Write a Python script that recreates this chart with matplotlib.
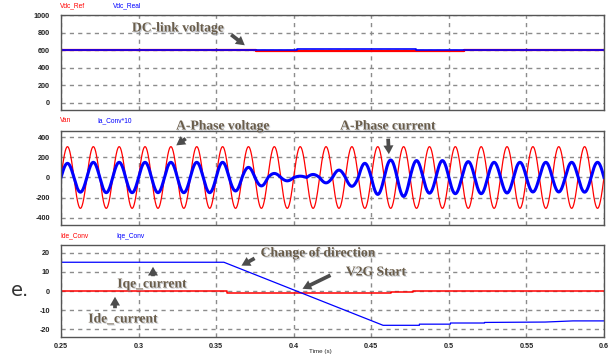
import numpy as np
import matplotlib
matplotlib.use("Agg")
import matplotlib.pyplot as plt
import matplotlib.patheffects as pe

plt.rcParams["axes.unicode_minus"] = False

# ---------------- data ----------------
# Panel 1: DC-link voltage
vdc_ref_t = [0.25, 0.376, 0.376, 0.51, 0.51, 0.60]
vdc_ref = [600, 600, 592, 592, 600, 600]
vdc_real_t = [0.25, 0.402, 0.402, 0.479, 0.479, 0.60]
vdc_real = [600, 600, 615, 615, 600, 600]

# Panel 2: phase voltage (60 Hz) and current*10, peak value of each half cycle
van_amplitude = 305.0
grid_freq = 60.0
ia_half_peaks = [140, -145, 150, -150, 150, -150, 150, -150, 150, -150,
                 150, -150, 150, -133, 100, -83, 40, -33, 13, 30,
                 -53, 73, -87, 140, -167, 173, -187, 167, -155, 167,
                 -160, 157, -160, 150, -153, 150, -143, 150, -143, 150,
                 -145, 150]

# Panel 3: d/q currents
iqe_t = [0.25, 0.355, 0.4576, 0.481, 0.481, 0.501, 0.501, 0.523, 0.523, 0.562, 0.58, 0.60]
iqe = [15, 15, -17.9, -17.9, -17.3, -17.3, -16.7, -16.7, -16.4, -16.2, -15.6, -15.6]
ide_t = [0.25, 0.357, 0.357, 0.463, 0.463, 0.477, 0.477, 0.60]
ide = [0, 0, -0.9, -0.9, -0.5, -0.5, 0, 0]

x_ticks = [0.25, 0.3, 0.35, 0.4, 0.45, 0.5, 0.55, 0.6]
x_tick_labels = ["0.25", "0.3", "0.35", "0.4", "0.45", "0.5", "0.55", "0.6"]
y1_ticks = [0, 200, 400, 600, 800, 1000]
y2_ticks = [-400, -200, 0, 200, 400]
y3_ticks = [-20, -10, 0, 10, 20]

# ---------------- figure ----------------
W, H = 608, 356
fig = plt.figure(figsize=(W / 100, H / 100), dpi=100)


def ax_at(left, top, right, bottom):
    return fig.add_axes([left / W, 1 - bottom / H, (right - left) / W, (bottom - top) / H])


def fxy(x, y):
    return (x / W, 1 - y / H)


ax1 = ax_at(61, 15, 604, 110)
ax2 = ax_at(61, 131, 604, 225)
ax3 = ax_at(61, 245, 604, 337)

RED = "#ff0000"
BLUE = "#0000ff"

for ax, yt, ylim in [(ax1, y1_ticks, (-80, 1000)), (ax2, y2_ticks, (-470, 460)),
                     (ax3, y3_ticks, (-24, 24))]:
    ax.set_xlim(0.25, 0.6)
    ax.set_ylim(*ylim)
    ax.set_xticks(x_ticks)
    ax.set_yticks(yt)
    ax.grid(True, color="#8c8c8c", linestyle=(0, (3, 3)), linewidth=1.0)
    ax.tick_params(length=0, pad=8, labelsize=5.2, colors="#222222")
    for lab in ax.get_yticklabels():
        lab.set_fontweight("bold")
        lab.set_family("Liberation Sans")
    for s in ax.spines.values():
        s.set_color("#555555")
        s.set_linewidth(1.0)
    ax.set_axisbelow(True)

ax1.set_xticklabels([])
ax2.set_xticklabels([])
ax3.set_xticklabels(x_tick_labels)
ax3.tick_params(axis="x", pad=4)
for lab in ax3.get_xticklabels():
    lab.set_fontweight("bold")
    lab.set_family("Liberation Sans")

# panel 1
ax1.plot(vdc_ref_t, vdc_ref, color=RED, lw=1.6)
ax1.plot(vdc_real_t, vdc_real, color=BLUE, lw=1.2)

# panel 2
t = np.linspace(0.25, 0.6, 6000)
phase = 2 * np.pi * grid_freq * (t - 0.25)
van = van_amplitude * np.sin(phase)
half_idx = np.clip(((t - 0.25) * 2 * grid_freq).astype(int), 0, len(ia_half_peaks) - 1)
ia = np.array(ia_half_peaks)[half_idx] * np.abs(np.sin(phase))
ax2.plot(t, van, color=RED, lw=0.9)
ax2.plot(t, ia, color=BLUE, lw=2.2)

# panel 3
ax3.plot(ide_t, ide, color=RED, lw=1.1)
ax3.plot(iqe_t, iqe, color=BLUE, lw=0.9)

# signal names above panels
small = dict(fontsize=4.8, family="Liberation Sans", va="center", ha="left")
fig.text(*fxy(60, 6), "Vdc_Ref", color=RED, **small)
fig.text(*fxy(113, 6), "Vdc_Real", color=BLUE, **small)
fig.text(*fxy(60, 121), "Van", color=RED, **small)
fig.text(*fxy(97, 121), "Ia_Conv*10", color=BLUE, **small)
fig.text(*fxy(60, 236), "Ide_Conv", color=RED, **small)
fig.text(*fxy(116, 236), "Iqe_Conv", color=BLUE, **small)

fig.text(*fxy(320, 351), "Time (s)", fontsize=4.5, family="Liberation Sans",
         ha="center", va="center", color="#222222")

# annotations
ann_font = dict(family="Liberation Serif", fontweight="bold", fontsize=9.8,
                color="#6a5d4a", ha="center", va="center",
                path_effects=[pe.withSimplePatchShadow(offset=(0.8, -0.8),
                                                       shadow_rgbFace="#9aa3b0", alpha=0.5)])
notes = [("DC-link voltage", 178, 28), ("A-Phase voltage", 223, 126),
         ("A-Phase current", 388, 126), ("Change of direction", 318, 253),
         ("V2G Start", 376, 272), ("Iqe_current", 152, 284), ("Ide_current", 123, 319)]
for txt, x, y in notes:
    fig.text(*fxy(x, y), txt, **ann_font)

arrows = [((229, 33), (247, 47)), ((188, 137), (174, 147)), ((388, 136), (389, 157)),
          ((257, 257), (239, 267)), ((333, 274), (300, 290)), ((153, 279), (153, 264)),
          ((115, 311), (115, 294))]
for (x0, y0), (x1, y1) in arrows:
    fig.add_artist(matplotlib.patches.FancyArrowPatch(
        fxy(x0, y0), fxy(x1, y1), transform=fig.transFigure,
        arrowstyle="simple,head_length=0.7,head_width=0.8,tail_width=0.3",
        mutation_scale=9, color="#4d4d4d", lw=0))

fig.text(*fxy(20, 290), "e.", fontsize=14, family="DejaVu Sans", color="#333333",
         ha="center", va="center")

fig.savefig("out.png", dpi=100)
